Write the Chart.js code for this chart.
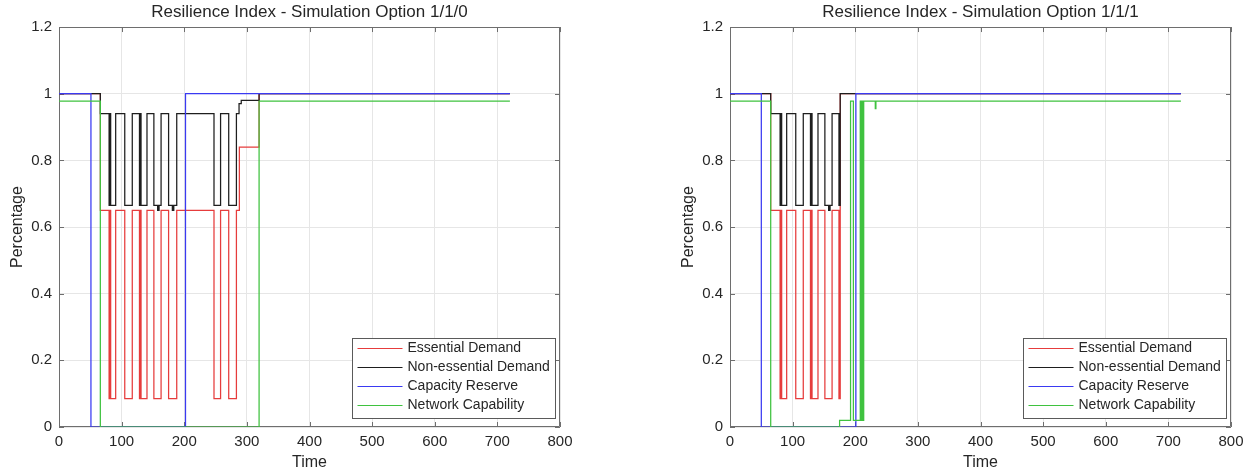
<!DOCTYPE html>
<html>
<head>
<meta charset="utf-8">
<title>Resilience Index</title>
<script src="https://cdn.jsdelivr.net/npm/chart.js@4.4.1/dist/chart.umd.min.js"></script>
<style>
  html, body { margin: 0; padding: 0; background: #fff; }
  #wrap { position: relative; width: 1258px; height: 475px; overflow: hidden; }
  canvas { position: absolute; top: 0; }
  #left { left: 0; }
  #right { left: 671px; }
</style>
</head>
<body>
<div id="wrap">
  <canvas id="left" width="587" height="475"></canvas>
  <canvas id="right" width="587" height="475"></canvas>
</div>
<script>
////////// data
const seriesLabels = ['Essential Demand', 'Non-essential Demand', 'Capacity Reserve', 'Network Capability'];
const xTickValues = [0, 100, 200, 300, 400, 500, 600, 700, 800];
const yTickValues = [0, 0.2, 0.4, 0.6, 0.8, 1, 1.2];

// option 1/1/0  (t = time where the level starts, v = level)
const leftEssentialT = [0, 66, 80, 81.5, 82.5, 90.5, 105, 117, 128.5, 129.8, 131, 140.5, 151.5, 163, 175, 188, 247.5, 258, 271, 283.3, 288, 319.5, 720];
const leftEssentialV = [1, 0.65, 0.085, 0.65, 0.085, 0.65, 0.085, 0.65, 0.085, 0.65, 0.085, 0.65, 0.085, 0.65, 0.085, 0.65, 0.085, 0.65, 0.085, 0.65, 0.84, 1, 1];
const leftNonEssT = [0, 66, 80, 81.5, 82.5, 90.5, 105, 117, 128.5, 129.8, 131, 140.5, 151.5, 157.5, 158.3, 159, 159.8, 163, 175, 181, 181.8, 182.5, 183.3, 188, 247.5, 258, 271, 283.3, 287.5, 291, 319.5, 720];
const leftNonEssV = [1, 0.94, 0.665, 0.94, 0.665, 0.94, 0.665, 0.94, 0.665, 0.94, 0.665, 0.94, 0.665, 0.65, 0.665, 0.65, 0.665, 0.94, 0.665, 0.65, 0.665, 0.65, 0.665, 0.94, 0.665, 0.94, 0.665, 0.94, 0.97, 0.98, 1, 1];
const leftCapacityT = [0, 51, 202, 720];
const leftCapacityV = [1, 0, 1, 1];
const leftNetworkT = [0, 66, 319.5, 720];
const leftNetworkV = [0.978, 0, 0.978, 0.978];

// option 1/1/1
const rightEssentialT = [0, 65, 80, 81.5, 82.5, 90.5, 105, 117, 128.5, 129.8, 131, 140.5, 151.5, 163, 174, 176, 720];
const rightEssentialV = [1, 0.65, 0.085, 0.65, 0.085, 0.65, 0.085, 0.65, 0.085, 0.65, 0.085, 0.65, 0.085, 0.65, 0.085, 1, 1];
const rightNonEssT = [0, 65, 80, 81.5, 82.5, 90.5, 105, 117, 128.5, 129.8, 131, 140.5, 151.5, 157.5, 158.3, 159, 159.8, 163, 174, 176, 720];
const rightNonEssV = [1, 0.94, 0.665, 0.94, 0.665, 0.94, 0.665, 0.94, 0.665, 0.94, 0.665, 0.94, 0.665, 0.65, 0.665, 0.65, 0.665, 0.94, 0.665, 1, 1];
const rightCapacityT = [0, 50, 201, 720];
const rightCapacityV = [1, 0, 1, 1];
const rightNetworkT = [0, 65, 175, 192.5, 197, 208, 209.5, 211, 212.5, 213.5, 232, 233, 720];
const rightNetworkV = [0.978, 0, 0.02, 0.978, 0.02, 0.978, 0.02, 0.978, 0.02, 0.978, 0.955, 0.978, 0.978];

////////// styles
const lineColors = ['#e63c3c', '#1e1e1e', '#3a3af2', '#3fc23f'];
const fontFam = '"Liberation Sans", Arial, Helvetica, sans-serif';
const textColor = '#262626';
const gridColor = '#e6e6e6';
const frameColor = '#6e6e6e';

function stepPoints(ts, vs) {
  return ts.map((t, i) => ({ x: t, y: vs[i] }));
}

// box round the axes with inward ticks, like matlab
const matlabFrame = {
  id: 'matlabFrame',
  beforeDatasetsDraw(chart) {
    const { ctx, chartArea: a, scales } = chart;
    ctx.save();
    ctx.strokeStyle = frameColor;
    ctx.lineWidth = 1;
    ctx.beginPath();
    ctx.rect(Math.round(a.left) + 0.5, Math.round(a.top) + 0.5, Math.round(a.right - a.left) - 1, Math.round(a.bottom - a.top) - 1);
    scales.x.ticks.forEach((t) => {
      const px = Math.round(scales.x.getPixelForValue(t.value)) + 0.5;
      ctx.moveTo(px, a.bottom);
      ctx.lineTo(px, a.bottom - 5);
      ctx.moveTo(px, a.top);
      ctx.lineTo(px, a.top + 5);
    });
    scales.y.ticks.forEach((t) => {
      const py = Math.round(scales.y.getPixelForValue(t.value)) + 0.5;
      ctx.moveTo(a.left, py);
      ctx.lineTo(a.left + 5, py);
      ctx.moveTo(a.right, py);
      ctx.lineTo(a.right - 5, py);
    });
    ctx.stroke();
    ctx.restore();
  }
};

// legend box in the lower right corner of the plot
const insideLegend = {
  id: 'insideLegend',
  afterDatasetsDraw(chart) {
    const { ctx, chartArea: a } = chart;
    const sets = chart.data.datasets;
    ctx.save();
    ctx.font = '14px ' + fontFam;
    const textW = Math.max(...sets.map((d) => ctx.measureText(d.label).width));
    const rowH = 19;
    const w = Math.round(55 + textW + 6);
    const h = 80;
    const x0 = Math.round(a.right - 5 - w) + 0.5;
    const y0 = Math.round(a.bottom - 9 - h) + 0.5;
    ctx.fillStyle = '#ffffff';
    ctx.fillRect(x0, y0, w, h);
    ctx.strokeStyle = '#5a5a5a';
    ctx.lineWidth = 1;
    ctx.strokeRect(x0, y0, w, h);
    ctx.textBaseline = 'middle';
    ctx.textAlign = 'left';
    sets.forEach((d, i) => {
      const cy = y0 + 10 + i * rowH;
      ctx.strokeStyle = lineColors[i];
      ctx.lineWidth = 1.2;
      ctx.beginPath();
      ctx.moveTo(x0 + 5, cy);
      ctx.lineTo(x0 + 50, cy);
      ctx.stroke();
      ctx.fillStyle = textColor;
      ctx.fillText(d.label, x0 + 55, cy);
    });
    ctx.restore();
  }
};

function makeChart(canvasId, titleText, series) {
  const datasets = series.map((s, i) => ({
    label: seriesLabels[i],
    data: stepPoints(s[0], s[1]),
    borderColor: lineColors[i],
    borderWidth: 1.25,
    pointRadius: 0,
    stepped: true,
    fill: false,
    order: 4 - i, // later series on top, as in the original
  }));

  return new Chart(document.getElementById(canvasId), {
    type: 'line',
    data: { datasets },
    options: {
      responsive: false,
      animation: false,
      devicePixelRatio: 1,
      layout: { padding: { left: 0, right: 27, top: 0, bottom: 0 } },
      plugins: {
        legend: { display: false },
        tooltip: { enabled: false },
        title: {
          display: true,
          text: titleText,
          fullSize: false,
          color: textColor,
          font: { family: fontFam, size: 17, weight: 'normal', lineHeight: 1.18 },
          padding: { top: 2, bottom: 5 },
        },
      },
      scales: {
        x: {
          type: 'linear',
          min: 0,
          max: 800,
          afterBuildTicks(scale) { scale.ticks = xTickValues.map((v) => ({ value: v })); },
          afterFit(scale) { scale.height = 48; },
          ticks: { color: textColor, font: { family: fontFam, size: 15 }, padding: 6, maxRotation: 0, autoSkip: false },
          grid: { color: gridColor, drawTicks: false },
          border: { display: false },
          title: { display: true, text: 'Time', color: textColor, font: { family: fontFam, size: 16 }, padding: { top: 0, bottom: 3 } },
        },
        y: {
          type: 'linear',
          min: 0,
          max: 1.2,
          afterBuildTicks(scale) { scale.ticks = yTickValues.map((v) => ({ value: v })); },
          afterFit(scale) { scale.width = 59; },
          ticks: { color: textColor, font: { family: fontFam, size: 15 }, padding: 7, callback: (v) => String(+v.toFixed(1)) },
          grid: { color: gridColor, drawTicks: false },
          border: { display: false },
          title: { display: true, text: 'Percentage', color: textColor, font: { family: fontFam, size: 16 }, padding: { top: 8, bottom: 0 } },
        },
      },
    },
    plugins: [matlabFrame, insideLegend],
  });
}

makeChart('left', 'Resilience Index - Simulation Option 1/1/0', [
  [leftEssentialT, leftEssentialV],
  [leftNonEssT, leftNonEssV],
  [leftCapacityT, leftCapacityV],
  [leftNetworkT, leftNetworkV],
]);

makeChart('right', 'Resilience Index - Simulation Option 1/1/1', [
  [rightEssentialT, rightEssentialV],
  [rightNonEssT, rightNonEssV],
  [rightCapacityT, rightCapacityV],
  [rightNetworkT, rightNetworkV],
]);
</script>
</body>
</html>
